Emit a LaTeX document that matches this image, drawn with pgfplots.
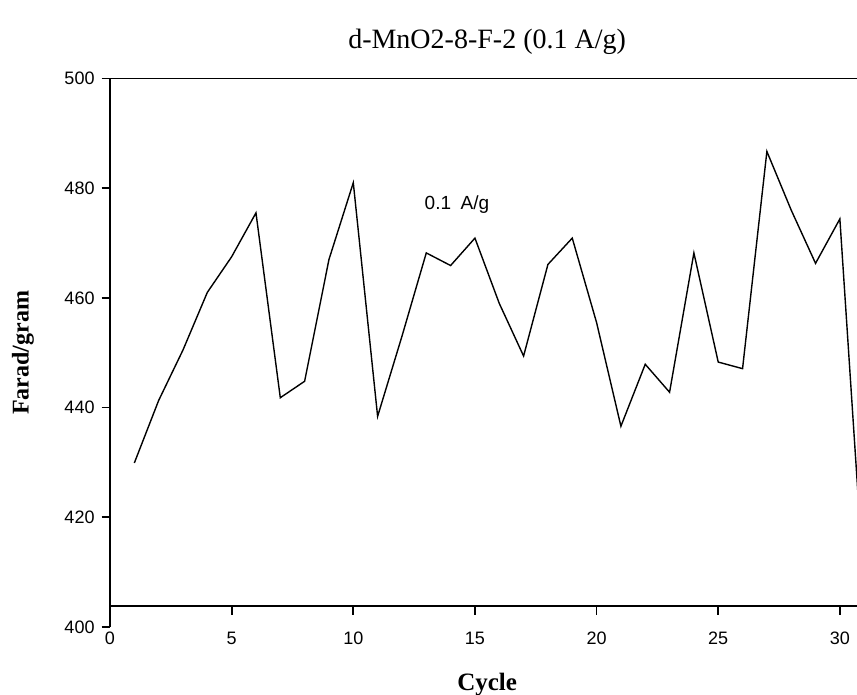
\documentclass[border=0pt]{standalone}
\usepackage{fontspec}
\setmainfont{Liberation Serif}
\setsansfont{Liberation Sans}
\usepackage{pgfplots}
\pgfplotsset{compat=1.18}
\begin{document}
\begin{tikzpicture}
\path[use as bounding box] (-55pt,-34pt) rectangle (373.5pt,313.5pt);
\begin{axis}[
  at={(0,0)}, anchor=south west,
  scale only axis,
  width=377.1pt, height=274.25pt,
  xmin=0, xmax=31, ymin=400, ymax=500,
  axis y line*=left,
  axis x line*=bottom,
  axis x line shift=-10.42pt,
  axis line style={line width=0.9pt, -},
  tick align=outside,
  major tick length=4.2pt,
  tick style={line width=0.9pt, black},
  xtick={0,5,...,30},
  ytick={400,420,...,500},
  /pgf/number format/assume math mode=true,
  tick label style={font=\sffamily\fontsize{9}{10}\selectfont},
  xticklabel style={yshift=-5pt},
  clip=false,
  title={d-MnO2-8-F-2 (0.1 A/g)},
  title style={at={(axis description cs:0.5,1)}, anchor=base, yshift=9pt, font=\rmfamily\fontsize{14}{16}\selectfont},
  xlabel={Cycle},
  xlabel style={at={(axis description cs:0.5,0)}, anchor=base, yshift=-32pt, font=\rmfamily\bfseries\fontsize{12.5}{14}\selectfont},
  ylabel={Farad/gram},
  ylabel style={at={(axis description cs:-0.1154,0.5)}, anchor=center, rotate=0, font=\rmfamily\bfseries\fontsize{12}{14}\selectfont},
]
\draw[line width=0.9pt] (axis cs:0,500) -- (axis cs:31,500);
\addplot[black, line width=0.7pt, mark=none] coordinates {
(1,429.9) (2,441.3) (3,450.5) (4,461) (5,467.5) (6,475.5)
(7,441.8) (8,444.8) (9,467) (10,481) (11,438.4) (12,453)
(13,468.2) (14,465.9) (15,470.9) (16,459) (17,449.4) (18,466.1)
(19,470.9) (20,455.5) (21,436.6) (22,447.9) (23,442.8) (24,468.2)
(25,448.3) (26,447.1) (27,486.7) (28,476) (29,466.3) (30,474.4)
(31,407)
};
\node[font=\sffamily\fontsize{9.5}{11}\selectfont] at (axis cs:14.26,477) {0.1\hspace{0.5em}A/g};
\end{axis}
\end{tikzpicture}
\end{document}
